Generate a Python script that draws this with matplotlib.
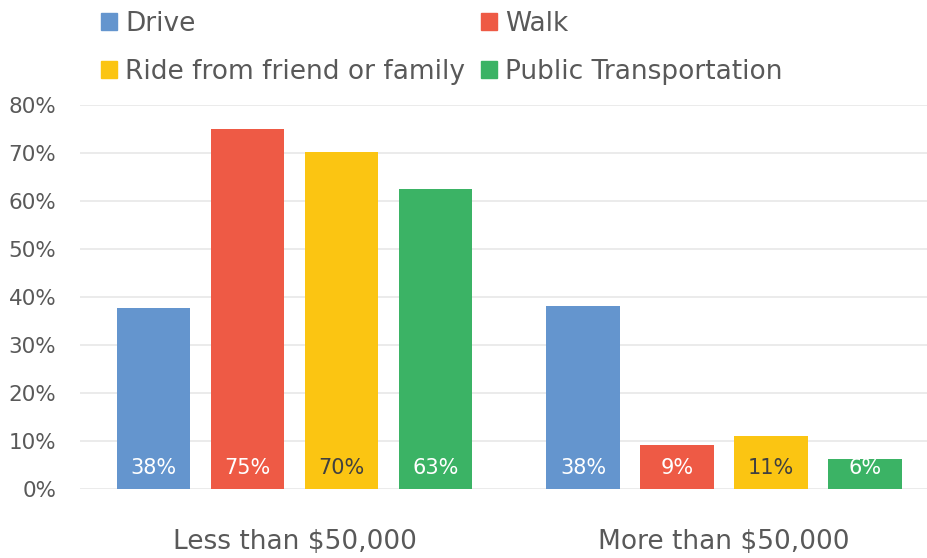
import matplotlib.pyplot as plt
import matplotlib.patches as mpatches
import numpy as np

plt.rcParams['font.family'] = ['DejaVu Sans']

# ---------------- DATA ---------------- #
groups = ["Less than $50,000", "More than $50,000"]
modes = ["Drive", "Walk", "Ride from friend or family", "Public Transportation"]
colors = ["#6495CE", "#EE5A45", "#FBC512", "#3BB365"]
label_colors = ["white", "white", "#404040", "white"]

# bar heights, labels as printed
values = {
    "Drive": [37.7, 38.1],
    "Walk": [74.9, 9.2],
    "Ride from friend or family": [70.3, 11.1],
    "Public Transportation": [62.5, 6.3],
}
labels = {
    "Drive": ["38%", "38%"],
    "Walk": ["75%", "9%"],
    "Ride from friend or family": ["70%", "11%"],
    "Public Transportation": ["63%", "6%"],
}
yticks = [0, 10, 20, 30, 40, 50, 60, 70, 80]

TEXT = "#595959"

# ---------------- PLOT ---------------- #
fig = plt.figure(figsize=(9.28, 5.58), dpi=100)
ax = fig.add_axes([0.0862, 0.1237, 0.9138, 0.6881])

x = np.arange(len(groups))
pitch = 0.2189
width = 0.172
for j, mode in enumerate(modes):
    xs = x + (j - 1.5) * pitch
    ax.bar(xs, values[mode], width=width, color=colors[j], zorder=3)
    for xi, lab in zip(xs, labels[mode]):
        ax.text(xi, 4.4, lab, ha="center", va="center", fontsize=15,
                color=label_colors[j], zorder=4)

ax.set_xlim(-0.4994, 1.475)
ax.set_ylim(0, 80)
ax.set_yticks(yticks)
ax.set_yticklabels([f"{t}%" for t in yticks], fontsize=15.5, color=TEXT)
ax.set_xticks(x)
ax.set_xticklabels(groups, fontsize=19, color=TEXT)
ax.tick_params(axis="both", length=0)
ax.tick_params(axis="x", pad=29)
ax.tick_params(axis="y", pad=17)
ax.grid(axis="y", color="#E6E6E6", linewidth=1.1, zorder=0)
for s in ax.spines.values():
    s.set_visible(False)

# legend: column-major fill, so order gives rows Drive/Walk, Ride/Public
order = [0, 2, 1, 3]
handles = [mpatches.Patch(color=colors[i], label=modes[i]) for i in order]
fig.legend(handles=handles, ncol=2, loc="upper left", bbox_to_anchor=(0.098, 1.0),
           borderaxespad=0, frameon=False, fontsize=19, labelcolor=TEXT,
           handlelength=0.6, handleheight=0.6, handletextpad=0.3,
           columnspacing=0.6, labelspacing=0.85)

fig.savefig("out.png", dpi=100)
